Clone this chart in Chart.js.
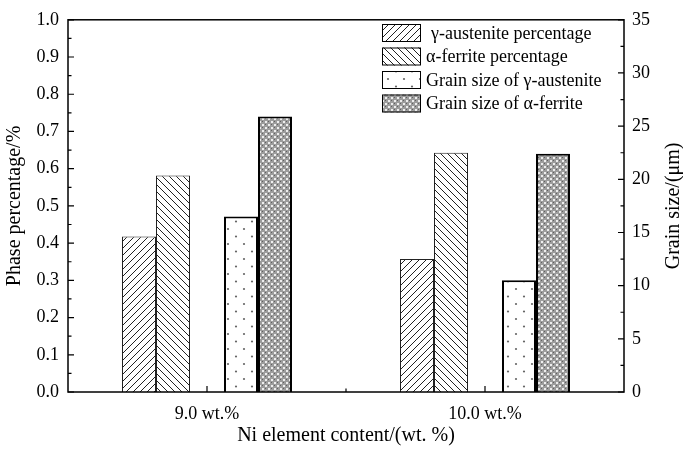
<!DOCTYPE html>
<html>
<head>
<meta charset="utf-8">
<script src="https://cdn.jsdelivr.net/npm/chart.js@4.4.1/dist/chart.umd.min.js"></script>
<style>
  html, body { margin: 0; padding: 0; background: #fff; }
  #wrap { width: 683px; height: 450px; position: relative; }
</style>
</head>
<body>
<div id="wrap"><canvas id="chart"></canvas></div>
<script>
// Data
const categories = ['9.0 wt.%', '10.0 wt.%'];
const gammaPhase = [0.418, 0.357];   // left axis
const alphaPhase = [0.582, 0.643];   // left axis
const gammaGrain = [16.5, 10.5];     // right axis, µm
const alphaGrain = [25.9, 22.4];     // right axis, µm

const serif = "'Liberation Serif', 'Times New Roman', serif";

// Fill patterns
function makePattern(w, h, draw) {
    const c = document.createElement('canvas');
    c.width = w; c.height = h;
    const g = c.getContext('2d');
    draw(g, w, h);
    return g.createPattern(c, 'repeat');
}

const hatchForward = makePattern(7, 7, (g, w, h) => {
    g.fillStyle = '#fff'; g.fillRect(0, 0, w, h);
    g.strokeStyle = '#222'; g.lineWidth = 1;
    g.beginPath();
    g.moveTo(-1, h + 1); g.lineTo(w + 1, -1);
    g.moveTo(-1, 1); g.lineTo(1, -1);
    g.moveTo(w - 1, h + 1); g.lineTo(w + 1, h - 1);
    g.stroke();
});

const hatchBack = makePattern(7, 7, (g, w, h) => {
    g.fillStyle = '#fff'; g.fillRect(0, 0, w, h);
    g.strokeStyle = '#222'; g.lineWidth = 1;
    g.beginPath();
    g.moveTo(-1, -1); g.lineTo(w + 1, h + 1);
    g.moveTo(w - 1, -1); g.lineTo(w + 1, 1);
    g.moveTo(-1, h - 1); g.lineTo(1, h + 1);
    g.stroke();
});

const dots = makePattern(16, 15, (g, w, h) => {
    g.fillStyle = '#fff'; g.fillRect(0, 0, w, h);
    g.fillStyle = '#666';
    g.beginPath(); g.arc(4, 4, 1.1, 0, Math.PI * 2); g.fill();
    g.beginPath(); g.arc(12, 11.5, 1.1, 0, Math.PI * 2); g.fill();
});

const crossDots = makePattern(6, 6, (g, w, h) => {
    g.fillStyle = '#9c9c9c'; g.fillRect(0, 0, w, h);
    g.fillStyle = '#eeeeee';
    g.fillRect(1, 1, 2, 2); g.fillRect(4, 4, 2, 2);
    g.fillStyle = '#606060';
    g.fillRect(4, 1, 1, 1); g.fillRect(1, 4, 1, 1);
});

// Inward ticks, frame, legend and right title
const framePlugin = {
    id: 'frame',
    afterDraw(chart) {
        const ctx = chart.ctx;
        const a = chart.chartArea;
        const y = chart.scales.y, y2 = chart.scales.y2, x = chart.scales.x;
        ctx.save();
        ctx.strokeStyle = '#000';
        ctx.lineWidth = 1.5;
        ctx.strokeRect(a.left, a.top, a.right - a.left, a.bottom - a.top);

        ctx.lineWidth = 1.2;
        ctx.beginPath();
        for (let i = 0; i <= 20; i++) {
            const py = y.getPixelForValue(i * 0.05);
            const len = i % 2 === 0 ? 6 : 3.5;
            ctx.moveTo(a.left, py); ctx.lineTo(a.left + len, py);
        }
        for (let i = 0; i <= 14; i++) {
            const py = y2.getPixelForValue(i * 2.5);
            const len = i % 2 === 0 ? 6 : 3.5;
            ctx.moveTo(a.right, py); ctx.lineTo(a.right - len, py);
        }
        const cx = categories.map((c, i) => x.getPixelForValue(i));
        cx.forEach(px => { ctx.moveTo(px, a.bottom); ctx.lineTo(px, a.bottom - 6); });
        const mid = (cx[0] + cx[1]) / 2;
        ctx.moveTo(mid, a.bottom); ctx.lineTo(mid, a.bottom - 3.5);
        ctx.stroke();

        // legend
        const items = chart.data.datasets.filter(d => d.label);
        ctx.font = '18px ' + serif;
        ctx.textBaseline = 'middle';
        ctx.textAlign = 'left';
        items.forEach((d, i) => {
            const top = 24 + i * 23.5;
            ctx.fillStyle = d.backgroundColor;
            ctx.fillRect(382, top, 39, 18);
            ctx.lineWidth = 1;
            ctx.strokeStyle = '#000';
            ctx.strokeRect(382.5, top + 0.5, 38, 17);
            ctx.fillStyle = '#000';
            ctx.fillText(d.label, i === 0 ? 431 : 426, top + 10);
        });

        // right axis title, reading bottom to top
        ctx.font = '20px ' + serif;
        ctx.translate(674, (a.top + a.bottom) / 2);
        ctx.rotate(-Math.PI / 2);
        ctx.textAlign = 'center';
        ctx.fillText('Grain size/(\u03bcm)', 0, 0);
        ctx.restore();
    }
};

new Chart(document.getElementById('chart'), {
    type: 'bar',
    data: {
        labels: categories,
        datasets: [
            { label: '\u03b3-austenite percentage', data: gammaPhase, yAxisID: 'y',
              backgroundColor: hatchForward, borderColor: '#222', borderWidth: 1 },
            { label: '\u03b1-ferrite percentage', data: alphaPhase, yAxisID: 'y',
              backgroundColor: hatchBack, borderColor: '#222', borderWidth: 1 },
            { label: '', data: [null, null], yAxisID: 'y' },
            { label: 'Grain size of \u03b3-austenite', data: gammaGrain, yAxisID: 'y2',
              backgroundColor: dots, borderColor: '#000', borderWidth: 2 },
            { label: 'Grain size of \u03b1-ferrite', data: alphaGrain, yAxisID: 'y2',
              backgroundColor: crossDots, borderColor: '#000', borderWidth: 2 }
        ]
    },
    options: {
        responsive: true,
        maintainAspectRatio: false,
        animation: false,
        devicePixelRatio: 1,
        layout: { padding: { top: 14, left: 0, right: 0, bottom: 0 } },
        datasets: { bar: { categoryPercentage: 0.6115, barPercentage: 1.0 } },
        scales: {
            x: {
                grid: { display: false, drawTicks: false },
                border: { display: false },
                ticks: { color: '#000', padding: 11, font: { family: serif, size: 18 } },
                title: { display: true, text: 'Ni element content/(wt. %)', color: '#000',
                         padding: { top: 0, bottom: 2 }, font: { family: serif, size: 20 } },
                afterFit: s => { s.height = 58; }
            },
            y: {
                position: 'left',
                min: 0, max: 1,
                grid: { display: false, drawTicks: false },
                border: { display: false },
                ticks: { stepSize: 0.1, color: '#000', padding: 9,
                         font: { family: serif, size: 18 },
                         callback: v => v.toFixed(1) },
                title: { display: true, text: 'Phase percentage/%', color: '#000',
                         padding: { top: 3, bottom: 0 }, font: { family: serif, size: 20 } },
                afterFit: s => { s.width = 68; }
            },
            y2: {
                position: 'right',
                min: 0, max: 35,
                grid: { display: false, drawTicks: false },
                border: { display: false },
                ticks: { stepSize: 5, color: '#000', padding: 8,
                         font: { family: serif, size: 18 } },
                afterFit: s => { s.width = 59; }
            }
        },
        plugins: {
            legend: { display: false },
            tooltip: { enabled: false }
        }
    },
    plugins: [framePlugin]
});
</script>
</body>
</html>
